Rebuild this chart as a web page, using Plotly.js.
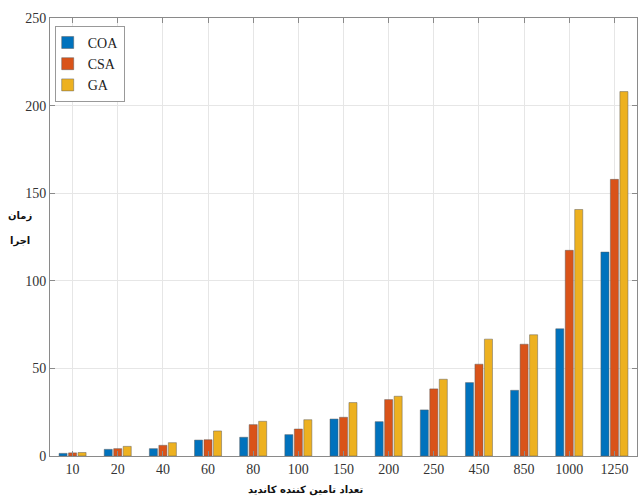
<!DOCTYPE html>
<html>
<head>
<meta charset="utf-8">
<script src="https://cdn.plot.ly/plotly-3.0.1.min.js"></script>
<style>html,body{margin:0;padding:0;background:#fff;}#chart{width:643px;height:500px;}</style>
</head>
<body>
<div id="chart"></div>
<script>
const categories = ['10','20','40','60','80','100','150','200','250','450','850','1000','1250'];
const coa = [1.5, 3.8, 4.2, 9.1, 10.7, 12.2, 21.1, 19.6, 26.3, 41.9, 37.5, 72.6, 116.4];
const csa = [1.8, 4.2, 6.1, 9.3, 17.9, 15.4, 22.1, 32.2, 38.3, 52.4, 63.8, 117.4, 157.9];
const ga  = [2.0, 5.5, 7.6, 14.3, 19.8, 20.7, 30.5, 34.1, 43.8, 66.7, 69.2, 140.7, 208.0];
const seriesNames = ['COA', 'CSA', 'GA'];
const colors = ['#0072BD', '#D95319', '#EDB120'];
const yTicks = [0, 50, 100, 150, 200, 250];
const xTitle = 'تعداد تامین کننده کاندید';
const yTitleLines = ['زمان', 'اجرا'];

const serif = 'Liberation Serif';
const arabic = 'DejaVu Sans';
const data = [coa, csa, ga].map((vals, i) => ({
  type: 'bar',
  name: seriesNames[i],
  x: categories,
  y: vals,
  marker: {color: colors[i], line: {color: 'rgba(90,90,90,0.6)', width: 0.8}},
  hoverinfo: 'none'
}));

const layout = {
  width: 643, height: 500,
  font: {family: serif, size: 14, color: '#333'},
  margin: {l: 50, r: 6, t: 18, b: 44},
  paper_bgcolor: '#fff', plot_bgcolor: '#fff',
  barmode: 'group', bargap: 0.37, bargroupgap: 0.15,
  showlegend: true,
  legend: {
    x: 0.008, y: 0.982, xanchor: 'left', yanchor: 'top',
    bgcolor: '#fff', bordercolor: '#999', borderwidth: 1,
    font: {family: serif, size: 14, color: '#222'},
    itemwidth: 30, tracegroupgap: 0,
    indentation: -8
  },
  xaxis: {
    type: 'category', range: [-0.5, 12.5],
    showgrid: true, gridcolor: '#e6e6e6', gridwidth: 1,
    showline: true, linecolor: '#8a8a8a', linewidth: 1, mirror: 'ticks',
    ticks: 'inside', ticklen: 5, tickcolor: '#8a8a8a',
    tickfont: {family: serif, size: 14, color: '#333'},
    zeroline: false, fixedrange: true
  },
  yaxis: {
    range: [0, 250], tickvals: yTicks,
    showgrid: true, gridcolor: '#e6e6e6', gridwidth: 1,
    showline: true, linecolor: '#8a8a8a', linewidth: 1, mirror: 'ticks',
    ticks: 'inside', ticklen: 5, tickcolor: '#8a8a8a',
    tickfont: {family: serif, size: 14, color: '#333'},
    zeroline: false, fixedrange: true
  },
  annotations: [
    {text: xTitle, xref: 'paper', yref: 'paper', x: 0.435, y: 0, yshift: -34,
     xanchor: 'center', yanchor: 'middle', showarrow: false,
     font: {family: arabic, size: 10, color: '#111', weight: 'bold'}},
    {text: yTitleLines[0], xref: 'paper', yref: 'paper', x: 0, xshift: -30, y: 0.547,
     xanchor: 'center', yanchor: 'middle', showarrow: false,
     font: {family: arabic, size: 10, color: '#111', weight: 'bold'}},
    {text: yTitleLines[1], xref: 'paper', yref: 'paper', x: 0, xshift: -30, y: 0.492,
     xanchor: 'center', yanchor: 'middle', showarrow: false,
     font: {family: arabic, size: 10, color: '#111', weight: 'bold'}}
  ]
};

Plotly.newPlot('chart', data, layout, {staticPlot: true, displayModeBar: false});
</script>
</body>
</html>
